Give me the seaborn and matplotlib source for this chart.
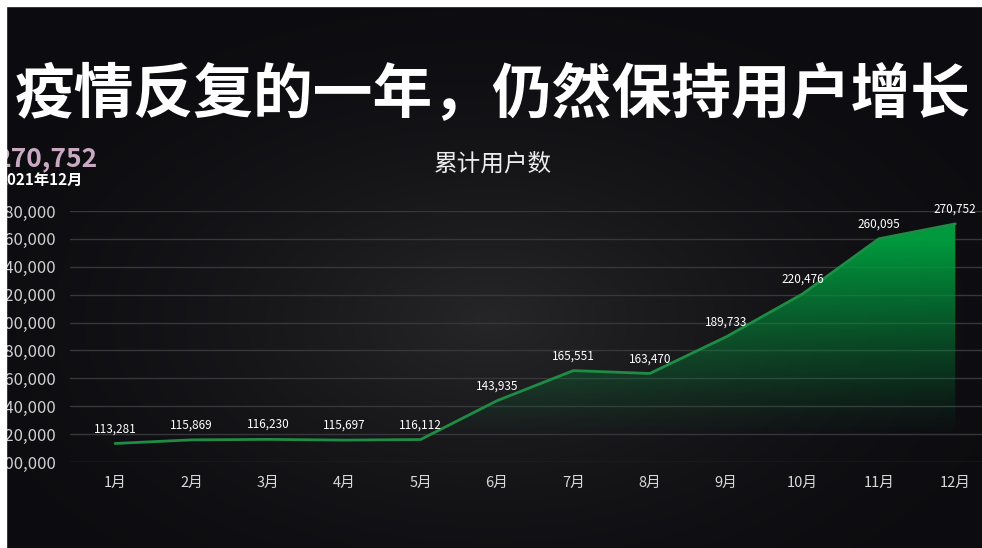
import numpy as np
import pandas as pd
import matplotlib.pyplot as plt
import seaborn as sns
from matplotlib.patches import Rectangle

# chart data
months = ["1月", "2月", "3月", "4月", "5月", "6月",
          "7月", "8月", "9月", "10月", "11月", "12月"]
users = [113281, 115869, 116230, 115697, 116112, 143935,
         165551, 163470, 189733, 220476, 260095, 270752]
y_ticks = list(range(100000, 280001, 20000))

title = "疫情反复的一年，仍然保持用户增长"
subtitle = "累计用户数"
latest_value = "270,752"
latest_date = "2021年12月"

W, H = 982, 548


def fx(px):
    return px / W


def fy(py):
    return 1 - py / H


sns.set_theme(style="dark")
plt.rcParams["font.family"] = ["Noto Sans CJK SC", "DejaVu Sans"]

fig = plt.figure(figsize=(W / 100, H / 100), dpi=100)
fig.patch.set_facecolor("#0e0e12")

# dark background with a soft light spot in the middle
bg = fig.add_axes([0, 0, 1, 1], zorder=0)
yy, xx = np.mgrid[0:H, 0:W]
r = np.hypot((xx - 490) / 560, (yy - 320) / 330)
t = np.clip(1 - r, 0, 1) ** 1.6
inner = np.array([0.15, 0.15, 0.16])
outer = np.array([0.05, 0.05, 0.065])
bg.imshow(outer + (inner - outer) * t[..., None], extent=[0, 1, 0, 1],
          aspect="auto", origin="upper")
bg.axis("off")

# main plot area
ax = fig.add_axes([fx(70), fy(462), 1 - fx(70), (462 - 211) / H], zorder=1)
ax.set_facecolor("none")

df = pd.DataFrame({"pos": np.arange(len(months)), "users": users})
sns.lineplot(data=df, x="pos", y="users", color="#1f8c45", lw=2, ax=ax, zorder=3)

# gradient area under the line
poly = ax.fill_between(df["pos"], df["users"], y_ticks[0], color="none", lw=0)
vals = np.linspace(y_ticks[0], y_ticks[-1], 300)
alpha = np.clip((vals - 118000) / (258000 - 118000), 0, 1) ** 1.2
grad = np.zeros((len(vals), 1, 4))
grad[..., 0, 0] = 0.0
grad[..., 0, 1] = 0.6
grad[..., 0, 2] = 0.24
grad[..., 0, 3] = alpha
xlim = (-0.59, 11.35)
im = ax.imshow(grad, extent=[xlim[0], xlim[1], y_ticks[0], y_ticks[-1]],
               aspect="auto", origin="lower", zorder=2)
im.set_clip_path(poly.get_paths()[0], transform=ax.transData)

for i, v in enumerate(users):
    ax.annotate(f"{v:,}", (i, v), xytext=(0, 6), textcoords="offset points",
                ha="center", va="bottom", color="white", fontsize=8.5,
                annotation_clip=False, zorder=4)

ax.set_xlim(*xlim)
ax.set_ylim(y_ticks[0], y_ticks[-1])
ax.set_xticks(df["pos"])
ax.set_xticklabels(months)
ax.set_yticks(y_ticks)
ax.set_yticklabels([f"{v:,}" for v in y_ticks])
ax.set_xlabel("")
ax.set_ylabel("")
ax.grid(axis="y", color="#36363b", lw=1)
ax.grid(axis="x", visible=False)
for s in ax.spines.values():
    s.set_visible(False)
ax.tick_params(axis="y", length=0, pad=10, labelsize=12, labelcolor="#cfcfcf")
ax.tick_params(axis="x", length=0, pad=10, labelsize=10.5, labelcolor="#d8d8d8")

# texts
fig.text(fx(493), fy(96), title, ha="center", va="center", fontsize=43,
         fontweight="heavy", color="white")
fig.text(fx(493), fy(164), subtitle, ha="center", va="center", fontsize=17,
         color="#ececec")
fig.text(fx(97), fy(159), latest_value, ha="right", va="center", fontsize=19,
         fontweight="bold", color="#c9a9c1")
fig.text(fx(83), fy(180), latest_date, ha="right", va="center", fontsize=11,
         fontweight="bold", color="white")

# white screenshot margins
fig.patches.append(Rectangle((0, fy(6)), 1, 6 / H, transform=fig.transFigure,
                             color="white", zorder=10))
fig.patches.append(Rectangle((0, 0), fx(6), 1, transform=fig.transFigure,
                             color="white", zorder=10))

fig.savefig("out.png", dpi=100)
